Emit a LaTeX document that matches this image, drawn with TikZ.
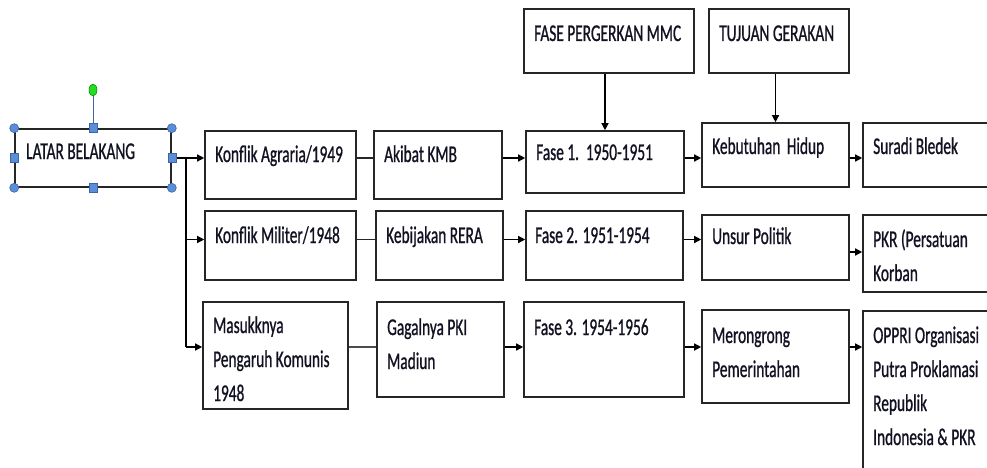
\documentclass[tikz,border=0pt]{standalone}
\usepackage{fontspec}
\setmainfont{Carlito}[FakeStretch=0.64,FakeBold=0.8]
\usetikzlibrary{arrows.meta,fit,shapes.geometric}
\definecolor{hblue}{HTML}{5B8DD8}
\definecolor{hblueD}{HTML}{3A67A8}
\definecolor{hgreen}{HTML}{22DD22}
\definecolor{bline}{HTML}{262626}
\definecolor{tcol}{HTML}{111122}
\tikzset{
  box/.style={draw=bline, line width=1.6pt, inner sep=0pt, fill=white},
  txt/.style={anchor=base west, inner sep=0pt, text=tcol, font=\fontsize{24}{34}\selectfont},
  arr/.style={draw=black, line width=1.3pt, -{Triangle[length=7pt,width=7pt]}},
  lnk/.style={draw=bline, line width=1.4pt},
  hcirc/.style={circle, fill=hblue, draw=hblueD, line width=0.6pt, minimum size=9pt, inner sep=0pt},
  hsq/.style={rectangle, fill=hblue, draw=hblueD, line width=0.6pt, minimum width=8pt, minimum height=9pt, inner sep=0pt},
}
\begin{document}
\begin{tikzpicture}[x=1pt,y=-1pt]
\useasboundingbox (0,0) rectangle (987,468);
\clip (0,0) rectangle (987,468);
\fill[white] (0,0) rectangle (987,468);
% row reference coordinates
\coordinate (r1) at (0,158);
\coordinate (r2) at (0,239.5);
\coordinate (r2b) at (0,252);
\coordinate (r3) at (0,347);
\coordinate (trunk) at (186,158);
% boxes
\node[box, fit={(15,129)(171,187)}] (latar) {};
\node[box, fit={(205,131)(356,199)}] (ka) {};
\node[box, fit={(374,131)(502,199)}] (akb) {};
\node[box, fit={(524,9)(694,73)}] (fpm) {};
\node[box, fit={(709,9)(849,73)}] (tg) {};
\node[box, fit={(526,131)(684,193)}] (f1) {};
\node[box, fit={(702,123)(849,187)}] (kh) {};
\node[box, fit={(863,123)(1010,187)}] (sb) {};
\node[box, fit={(205,211)(356,280)}] (km) {};
\node[box, fit={(376,211)(503,280)}] (kr) {};
\node[box, fit={(526,211)(683,280)}] (f2) {};
\node[box, fit={(702,215)(849,280)}] (up) {};
\node[box, fit={(863,215)(1010,292)}] (pkr) {};
\node[box, fit={(203,302)(348,409)}] (mk) {};
\node[box, fit={(377,302)(504,397)}] (gp) {};
\node[box, fit={(524,302)(684,397)}] (f3) {};
\node[box, fit={(702,310)(849,403)}] (mp) {};
\node[box, fit={(863,311)(1010,490)}] (op) {};
% texts
\node[txt] (tlatar) at (26,159) {LATAR BELAKANG};
\node[txt] (tka) at (215,162) {Konflik Agraria/1949};
\node[txt] (takb) at (384,162) {Akibat KMB};
\node[txt] (tfpm) at (534,41) {FASE PERGERKAN MMC};
\node[txt] (ttg) at (719,41) {TUJUAN GERAKAN};
\node[txt] (tf1) at (536,160) {Fase 1.\ \ 1950-1951};
\node[txt] (tkh) at (712,154) {Kebutuhan\hspace{3pt} Hidup};
\node[txt] (tsb) at (873,154) {Suradi Bledek};
\node[txt] (tkm) at (215,243) {Konflik Militer/1948};
\node[txt] (tkr) at (386,243) {Kebijakan RERA};
\node[txt] (tf2) at (535,243) {Fase 2. 1951-1954};
\node[txt] (tup) at (712,244) {Unsur Politik};
\node[txt] (tpkr) at (873,247) {\parbox[t]{200pt}{PKR (Persatuan\\Korban}};
\node[txt] (tmk) at (213,333) {\parbox[t]{200pt}{Masukknya\\Pengaruh Komunis\\1948}};
\node[txt] (tgp) at (387,335) {\parbox[t]{200pt}{Gagalnya PKI\\Madiun}};
\node[txt] (tf3) at (534,335) {Fase 3. 1954-1956};
\node[txt] (tmp) at (712,343) {\parbox[t]{200pt}{Merongrong\\Pemerintahan}};
\node[txt] (top) at (873,343) {\parbox[t]{200pt}{OPPRI Organisasi\\Putra Proklamasi\\Republik\\Indonesia \& PKR}};
% connectors
\draw[arr] (latar.east |- r1) -- (ka.west |- r1);
\draw[line width=1.3pt] (trunk) -- (trunk |- r3);
\draw[arr] (trunk |- r2) -- (km.west |- r2);
\draw[arr] (trunk |- r3) -- (mk.west |- r3);
\draw[lnk] (ka.east |- r1) -- (akb.west |- r1);
\draw[arr] (akb.east |- r1) -- (f1.west |- r1);
\draw[arr] (f1.east |- r1) -- (kh.west |- r1);
\draw[arr] (kh.east |- r1) -- (sb.west |- r1);
\draw[arr] (fpm.south -| f1.north) -- (f1.north);
\draw[arr] (tg.south -| kh.north) -- (kh.north);
\draw[lnk] (km.east |- r2) -- (kr.west |- r2);
\draw[arr] (kr.east |- r2) -- (f2.west |- r2);
\draw[arr] (f2.east |- r2) -- (up.west |- r2);
\draw[arr] (up.east |- r2b) -- (pkr.west |- r2b);
\draw[lnk, draw=black!70] (mk.east |- r3) -- (gp.west |- r3);
\draw[arr] (gp.east |- r3) -- (f3.west |- r3);
\draw[arr] (f3.east |- r3) -- (mp.west |- r3);
\draw[arr] (mp.east |- r3) -- (op.west |- r3);
% selection handles
\node[ellipse, fill=hgreen, draw=green!50!black, line width=0.5pt, minimum width=8pt, minimum height=12pt, inner sep=0pt] (rot) at (93,90) {};
\draw[draw=hblueD, line width=1pt] (rot.south) -- (latar.north);
\node[hcirc] (h1) at (latar.north west) {};
\node[hcirc] (h2) at (latar.north east) {};
\node[hcirc] (h3) at (latar.south west) {};
\node[hcirc] (h4) at (latar.south east) {};
\node[hsq] (h5) at (latar.north) {};
\node[hsq] (h6) at (latar.south) {};
\node[hsq] (h7) at (latar.west) {};
\node[hsq] (h8) at (latar.east) {};
\end{tikzpicture}
\end{document}
